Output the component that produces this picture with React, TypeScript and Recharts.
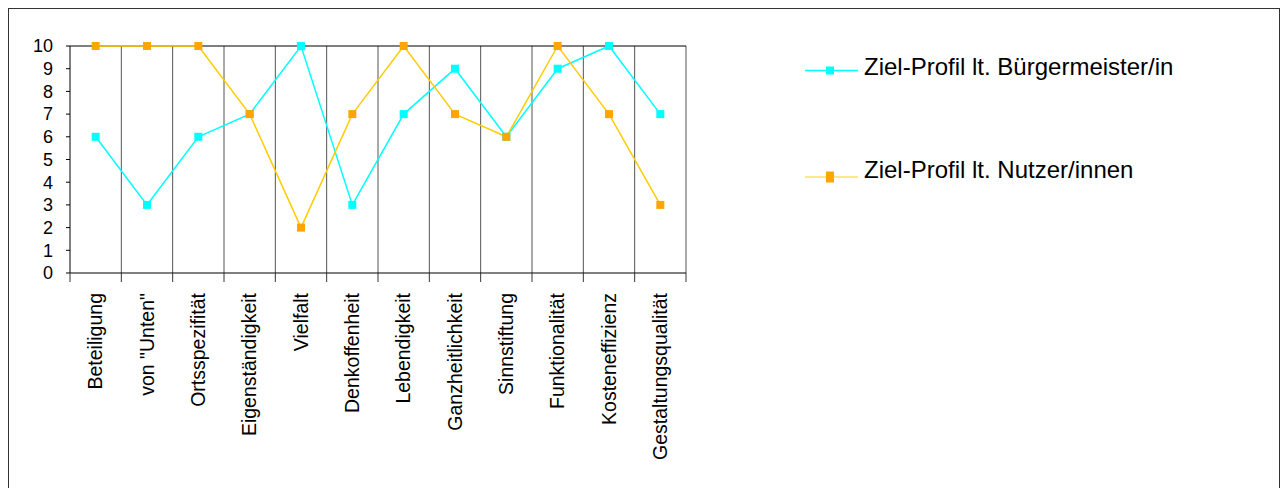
import { LineChart, Line, XAxis, YAxis, CartesianGrid } from 'recharts';

const categories = [
  'Beteiligung',
  'von "Unten"',
  'Ortsspezifität',
  'Eigenständigkeit',
  'Vielfalt',
  'Denkoffenheit',
  'Lebendigkeit',
  'Ganzheitlichkeit',
  'Sinnstiftung',
  'Funktionalität',
  'Kosteneffizienz',
  'Gestaltungsqualität',
];
const buergermeister = [6, 3, 6, 7, 10, 3, 7, 9, 6, 9, 10, 7];
const nutzer = [10, 10, 10, 7, 2, 7, 10, 7, 6, 10, 7, 3];
const yTicks = [0, 1, 2, 3, 4, 5, 6, 7, 8, 9, 10];

const seriesNames = ['Ziel-Profil lt. Bürgermeister/in', 'Ziel-Profil lt. Nutzer/innen'];

const CYAN = '#00FFFF';
const ORANGE_MARK = '#FFA500';
const ORANGE_LINE = '#FFCC00';

const CHART_W = 1270;
const CHART_H = 480;
const PLOT_W = 616;
const STEP = PLOT_W / categories.length;
const TICK_LEN = 9;
const TICK_GAP = 11;

const data = categories.map((name, i) => ({
  name,
  bm: buergermeister[i],
  nu: nutzer[i],
}));

function squareDot(fill: string, size: number) {
  return (props: any) => {
    const { cx, cy, index } = props;
    if (cx == null || cy == null) return <g key={`d-${index}`} />;
    return (
      <rect
        key={`d-${index}`}
        x={cx - size / 2}
        y={cy - size / 2}
        width={size}
        height={size}
        fill={fill}
        stroke="none"
      />
    );
  };
}

// label plus the tick marks that sit on the category boundaries
function CategoryTick(props: any) {
  const { x, y, payload, index } = props;
  const axisY = y - TICK_LEN - TICK_GAP;
  const last = index === categories.length - 1;
  return (
    <g>
      <line x1={x - STEP / 2} x2={x - STEP / 2} y1={axisY} y2={axisY + TICK_LEN} stroke="#333" />
      {last && (
        <line x1={x + STEP / 2} x2={x + STEP / 2} y1={axisY} y2={axisY + TICK_LEN} stroke="#333" />
      )}
      <text
        x={x}
        y={y}
        transform={`rotate(-90, ${x}, ${y})`}
        textAnchor="end"
        dy="0.35em"
        fontSize={19.5}
        fill="#000"
      >
        {payload.value}
      </text>
    </g>
  );
}

function LegendBox() {
  // page coords minus the 9px offset of the framed box
  const items = [
    { name: seriesNames[0], line: CYAN, mark: CYAN, y: 61.5, w: 8, h: 8, textY: 66 },
    { name: seriesNames[1], line: '#FFE060', mark: ORANGE_MARK, y: 168, w: 8, h: 11, textY: 169 },
  ];
  return (
    <svg
      width={CHART_W}
      height={CHART_H}
      style={{ position: 'absolute', left: 0, top: 0, pointerEvents: 'none' }}
    >
      {items.map((it) => (
        <g key={it.name}>
          <line x1={796} x2={849} y1={it.y} y2={it.y} stroke={it.line} strokeWidth={1.5} />
          <rect x={821 - it.w / 2} y={it.y - it.h / 2} width={it.w} height={it.h} fill={it.mark} />
          <text x={855} y={it.textY} fontSize={24} fill="#000">
            {it.name}
          </text>
        </g>
      ))}
    </svg>
  );
}

export default function App() {
  const pad = STEP / 2;
  return (
    <div
      style={{
        position: 'fixed',
        left: 8,
        top: 8,
        width: CHART_W,
        height: 490,
        border: '1px solid #333',
        borderBottom: 'none',
        background: '#fff',
        fontFamily: '"Liberation Sans", Arial, sans-serif',
      }}
    >
      <LineChart
        width={CHART_W}
        height={CHART_H}
        data={data}
        margin={{ top: 37, right: CHART_W - 61 - PLOT_W, left: 0, bottom: 16 }}
      >
        <CartesianGrid
          horizontal={false}
          stroke="#555"
          verticalCoordinatesGenerator={({ offset }: any) =>
            categories.map((_, i) => offset.left + ((i + 1) * offset.width) / categories.length)
          }
        />
        <CartesianGrid
          vertical={false}
          stroke="#000"
          horizontalCoordinatesGenerator={({ offset }: any) => [offset.top]}
        />
        <XAxis
          dataKey="name"
          height={200}
          padding={{ left: pad, right: pad }}
          interval={0}
          tickLine={false}
          tickSize={TICK_LEN}
          tickMargin={TICK_GAP}
          axisLine={{ stroke: '#000' }}
          tick={<CategoryTick />}
        />
        <YAxis
          domain={[0, 10]}
          ticks={yTicks}
          interval={0}
          width={61}
          tickSize={4}
          tickMargin={13}
          axisLine={{ stroke: '#000' }}
          tickLine={{ stroke: '#000' }}
          tick={{ fill: '#000', fontSize: 18 }}
        />
        <Line
          dataKey="bm"
          name={seriesNames[0]}
          stroke={CYAN}
          strokeWidth={1.5}
          dot={squareDot(CYAN, 8)}
          activeDot={false}
          isAnimationActive={false}
        />
        <Line
          dataKey="nu"
          name={seriesNames[1]}
          stroke={ORANGE_LINE}
          strokeWidth={1.5}
          dot={squareDot(ORANGE_MARK, 8)}
          activeDot={false}
          isAnimationActive={false}
        />
      </LineChart>
      <LegendBox />
    </div>
  );
}
